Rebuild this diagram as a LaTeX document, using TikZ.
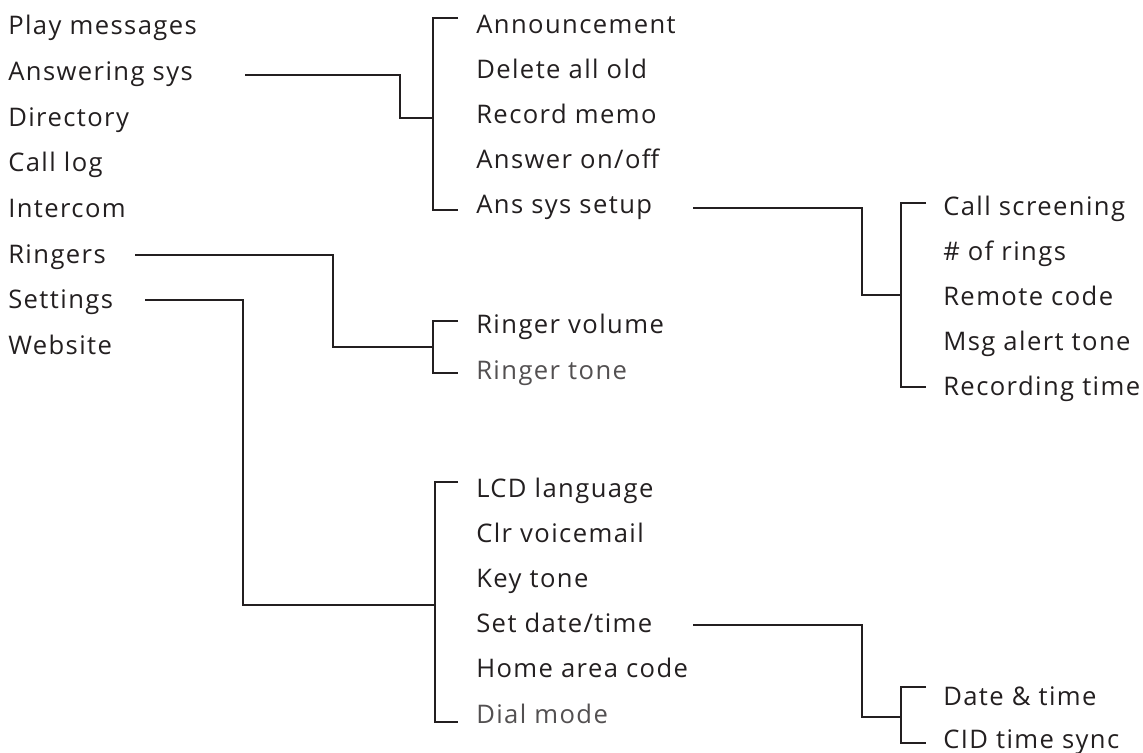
\documentclass[tikz,border=0pt]{standalone}
\usepackage{fontspec}
\setmainfont{Open Sans}[LetterSpace=5.5]
\usetikzlibrary{calc}
\definecolor{menuink}{HTML}{231F20}
\tikzset{
  menu item/.style={anchor=base west,inner sep=0pt,text=menuink,font=\fontsize{19.2}{23}\selectfont},
  dim item/.style={text=menuink!78},
  menu line/.style={draw=menuink,line width=1.6pt},
}

\begin{document}
\begin{tikzpicture}[x=0.75pt,y=-0.75pt]
\useasboundingbox (0,0) rectangle (1143,753);
% top menu
\foreach[count=\k] \txt/\nm in {Play messages/play,Answering sys/answ,Directory/dir,Call log/calllog,Intercom/icom,Ringers/ring,Settings/set,Website/web}
{
  \node[menu item] (\nm) at (8, {35+45.6*(\k-1)}) {\txt};
}
% answering system
\foreach[count=\k] \txt/\nm in {Announcement/ann,Delete all old/del,Record memo/memo,{Answer on/off}/onoff,Ans sys setup/setup}
{
  \node[menu item] (\nm) at (476, {33+45.2*(\k-1)}) {\txt};
}
% ringers
\node[menu item] (rvol) at (476,333) {Ringer volume};
\node[menu item,dim item] (rtone) at (476,379) {Ringer tone};
% settings
\foreach[count=\k] \txt/\nm in {LCD language/lcd,Clr voicemail/clr,Key tone/key,{Set date/time}/sdt,Home area code/home}
{
  \node[menu item] (\nm) at (476, {497+45.2*(\k-1)}) {\txt};
}
\node[menu item,dim item] (dial) at (476,723) {Dial mode};
% ans sys setup
\foreach[count=\k] \txt/\nm in {Call screening/screen,\# of rings/rings,Remote code/remote,Msg alert tone/alert,Recording time/rectime}
{
  \node[menu item] (\nm) at (943, {215+45*(\k-1)}) {\txt};
}
% date/time
\node[menu item] (dtime) at (943,705) {Date \& time};
\node[menu item] (cid) at (943,748) {CID time sync};

% connector starts and bracket spines
\coordinate (answ out) at (245,75);
\coordinate (ring out) at (135,255);
\coordinate (set out) at (145,300);
\coordinate (setup out) at (693,208);
\coordinate (sdt out) at (693,625);
\coordinate (ans spine) at (433,118);
\coordinate (ring spine) at (433,347);
\coordinate (set spine) at (435,605);
\coordinate (setup spine) at (901,295);
\coordinate (sdt spine) at (901,717);

% connectors
\draw[menu line] (answ out) -| (400,118) -- (ans spine);
\draw[menu line] (ring out) -| (333,347) -- (ring spine);
\draw[menu line] (set out) -| (243,605) -- (set spine);
\draw[menu line] (setup out) -| (862,295) -- (setup spine);
\draw[menu line] (sdt out) -| (862,717) -- (sdt spine);

% brackets
\draw[menu line] (458,18) -| (ans spine |- 0,210) -- (458,210);
\draw[menu line] (458,321) -| (ring spine |- 0,373) -- (458,373);
\draw[menu line] (458,482) -| (set spine |- 0,722) -- (458,722);
\draw[menu line] (926,203) -| (setup spine |- 0,387) -- (926,387);
\draw[menu line] (926,687) -| (sdt spine |- 0,743) -- (926,743);
\end{tikzpicture}
\end{document}
